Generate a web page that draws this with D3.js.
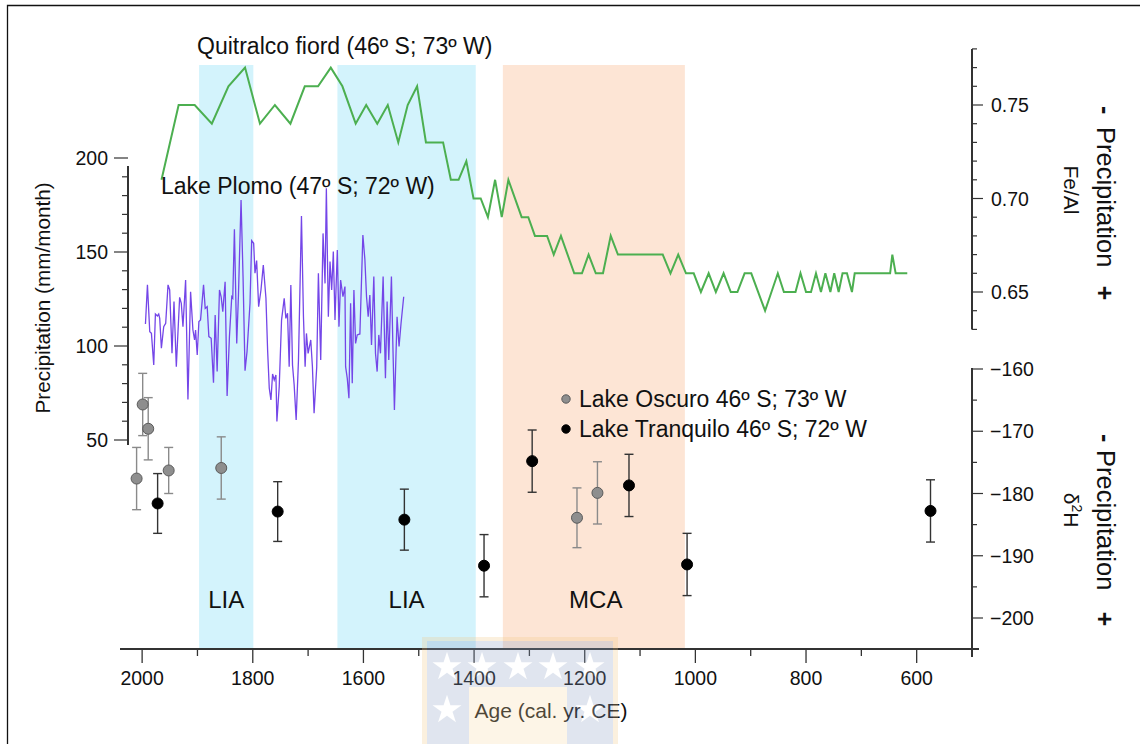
<!DOCTYPE html>
<html><head><meta charset="utf-8">
<script src="https://cdn.jsdelivr.net/npm/d3@7"></script>
<style>
body{margin:0;background:#fff}
svg{display:block}
text{font-family:"Liberation Sans",Arial,Helvetica,sans-serif;fill:#111}
</style>
</head><body>
<svg id="c" width="1140" height="744"></svg>
<script>
// ---------------- data ----------------
const xTickYears = [2000,1800,1600,1400,1200,1000,800,600];
const precipTicks = [50,100,150,200];
const feAlTicks = [0.65,0.70,0.75];
const d2hTicks = [-200,-190,-180,-170,-160];

const liaBands = [[1897,1799],[1647,1397]];
const mcaBands = [[1348,1019]];
const bandLabels = ["LIA","LIA","MCA"];
const bandLabelYears = [1848,1522,1180];

// Quitralco fiord Fe/Al
const quitralcoYears = [1965,1934,1905,1874,1844,1814,1787,1760,1732,1706,1682,1659,1638,1614,1595,1575,1556,1537,1520,1503,1487,1456,1442,1428,1414,1401,1388,1375,1362,1350,1338,1314,1302,1290,1268,1256,1243,1219,1205,1193,1180,1167,1153,1140,1059,1045,1031,1017,1003,990,976,963,949,936,924,911,899,874,851,840,819,810,800,791,782,773,765,756,749,741,734,726,717,712,648,644,638,617];
const quitralcoFeAl = [0.71,0.75,0.75,0.74,0.76,0.77,0.74,0.75,0.74,0.76,0.76,0.77,0.76,0.74,0.75,0.74,0.75,0.73,0.75,0.76,0.73,0.73,0.71,0.71,0.72,0.70,0.70,0.69,0.71,0.69,0.71,0.69,0.69,0.68,0.68,0.67,0.68,0.66,0.66,0.67,0.66,0.66,0.68,0.67,0.67,0.66,0.67,0.66,0.66,0.65,0.66,0.65,0.66,0.65,0.65,0.66,0.66,0.64,0.66,0.65,0.65,0.66,0.65,0.65,0.66,0.65,0.66,0.65,0.66,0.65,0.66,0.66,0.65,0.66,0.66,0.67,0.66,0.66];

// Lake Plomo precipitation (mm/month)
const plomoYears = [1994.0,1990.4,1986.2,1983.2,1979.0,1976.0,1972.4,1970.0,1968.2,1965.2,1961.0,1957.4,1953.2,1950.2,1946.0,1942.4,1938.2,1932.2,1929.2,1926.2,1921.4,1917.2,1912.4,1908.2,1905.2,1903.4,1900.4,1897.4,1894.4,1889.0,1886.0,1882.4,1879.4,1875.2,1871.0,1868.0,1864.4,1860.2,1857.2,1854.2,1850.0,1846.4,1842.2,1838.0,1836.2,1833.2,1829.0,1826.0,1821.2,1817.6,1814.0,1810.4,1805.0,1802.0,1798.4,1796.0,1793.0,1789.4,1785.2,1781.0,1776.2,1773.2,1770.2,1767.2,1764.2,1761.2,1758.2,1756.4,1752.2,1748.0,1743.2,1740.2,1737.2,1734.2,1731.2,1728.2,1725.2,1721.6,1717.4,1712.0,1708.4,1705.4,1703.0,1700.0,1695.2,1692.2,1689.2,1684.4,1681.4,1677.2,1673.0,1669.4,1667.0,1663.4,1660.4,1657.4,1654.4,1651.4,1647.2,1644.2,1641.2,1637.0,1633.4,1632.2,1629.2,1626.2,1623.2,1620.2,1617.2,1614.2,1611.2,1606.4,1601.0,1597.4,1594.4,1591.4,1588.4,1585.4,1581.2,1578.2,1575.2,1572.2,1569.2,1564.4,1560.2,1557.2,1554.2,1549.4,1547.0,1544.0,1539.2,1535.6,1532.0,1527.2];
const plomoPrecip = [111.7,132.5,107.6,106.7,89.9,117.0,116.0,117.0,114.7,98.8,110.3,112.1,132.5,129.8,96.1,123.6,89.0,125.9,122.7,110.3,135.1,71.6,128.9,108.5,103.2,108.5,95.2,113.0,113.8,132.5,120.0,120.9,105.0,104.1,80.5,116.5,86.4,129.8,126.2,118.3,134.2,73.4,105.0,126.2,125.4,162.1,101.4,126.2,177.7,136.9,86.9,97.0,122.7,156.0,154.6,138.7,145.4,120.9,129.8,143.1,125.4,97.9,77.5,71.3,85.1,81.9,84.6,59.8,78.4,113.8,125.4,114.7,117.4,89.0,132.5,89.9,79.3,60.6,92.6,169.2,115.6,89.0,106.7,96.1,103.2,89.0,64.2,89.0,138.7,92.6,159.9,133.3,183.9,115.6,144.9,129.8,150.2,113.8,151.1,110.3,135.1,126.2,131.6,89.0,82.8,72.2,122.7,80.2,129.8,101.4,105.9,106.4,159.0,146.1,126.2,115.6,127.1,100.5,136.9,96.1,86.4,105.9,96.1,136.9,82.8,123.6,92.6,136.9,103.2,66.0,115.6,99.7,112.1,126.2];

// Lake Oscuro / Lake Tranquilo δ2H
const oscuroYears = [2010,1999,1989,1952,1857,1214,1177];
const oscuroD2H = [-177.6,-165.7,-169.6,-176.3,-175.9,-183.9,-179.9];
const oscuroErr = [5,5,5,3.7,5,4.8,5];
const tranquiloYears = [1972,1755,1526,1382,1295,1120,1015,575];
const tranquiloD2H = [-181.6,-182.9,-184.2,-191.6,-174.8,-178.7,-191.4,-182.8];
const tranquiloErr = [4.8,4.8,4.9,5,5,5,5,5];

// ---------------- chart ----------------
const svg = d3.select("#c");
const FONT = 19.5;

const x = d3.scaleLinear().domain([2040,500]).range([120,972]);
const yP = d3.scaleLinear().domain([50,200]).range([440,158]);
const yF = d3.scaleLinear().domain([0.65,0.75]).range([292,105]);
const yD = d3.scaleLinear().domain([-200,-160]).range([618,369]);

// frame
svg.append("path").attr("d","M7.5,744 V5.5 H1140").attr("fill","none").attr("stroke","#111").attr("stroke-width",1.3);

// bands
const bandTop = 65, bandBottom = 649;
svg.selectAll("rect.lia").data(liaBands).join("rect").attr("class","lia")
  .attr("x",d=>x(d[0])).attr("width",d=>x(d[1])-x(d[0]))
  .attr("y",bandTop).attr("height",bandBottom-bandTop).attr("fill","#d3f3fc");
svg.selectAll("rect.mca").data(mcaBands).join("rect").attr("class","mca")
  .attr("x",d=>x(d[0])).attr("width",d=>x(d[1])-x(d[0]))
  .attr("y",bandTop).attr("height",bandBottom-bandTop).attr("fill","#fde5d5");
svg.selectAll("text.band").data(bandLabels).join("text").attr("class","band")
  .attr("x",(d,i)=>x(bandLabelYears[i])).attr("y",608)
  .attr("text-anchor","middle").attr("font-size",24).text(d=>d);

// Quitralco green line
const qData = quitralcoYears.map((y,i)=>[y,quitralcoFeAl[i]]);
svg.append("path").datum(qData)
  .attr("d",d3.line().x(d=>x(d[0])).y(d=>yF(d[1])))
  .attr("fill","none").attr("stroke","#4caf50").attr("stroke-width",2).attr("stroke-linejoin","miter");

// Lake Plomo purple line
const pData = plomoYears.map((y,i)=>[y,plomoPrecip[i]]);
svg.append("path").datum(pData)
  .attr("d",d3.line().x(d=>x(d[0])).y(d=>yP(d[1])))
  .attr("fill","none").attr("stroke","#7446e8").attr("stroke-width",1.3);

// titles
svg.append("text").attr("x",197).attr("y",54).attr("font-size",23).text("Quitralco fiord (46º S; 73º W)");
svg.append("text").attr("x",161).attr("y",194).attr("font-size",23).text("Lake Plomo (47º S; 72º W)");

// x axis
const xAxisG = svg.append("g");
xAxisG.append("line").attr("class","dom").attr("x1",120).attr("x2",979).attr("y1",649).attr("y2",649).attr("stroke","#333").attr("stroke-width",2);
const xMinor = d3.range(2000,499,-100);
xAxisG.selectAll("line.t").data(xMinor).join("line").attr("class","t")
  .attr("x1",d=>x(d)).attr("x2",d=>x(d)).attr("y1",649)
  .attr("y2",d=>xTickYears.includes(d)?663:656).attr("stroke","#333").attr("stroke-width",1.3);
xAxisG.selectAll("text.tl").data(xTickYears).join("text").attr("class","tl")
  .attr("x",d=>x(d)).attr("y",685).attr("text-anchor","middle").attr("font-size",FONT).text(d=>d);
svg.append("text").attr("x",551).attr("y",718).attr("text-anchor","middle").attr("font-size",21).text("Age (cal. yr. CE)");

// left axis (precipitation)
const lG = svg.append("g");
lG.append("line").attr("class","dom").attr("x1",128).attr("x2",128).attr("y1",yP(195.8)).attr("y2",yP(47.3)).attr("stroke","#333").attr("stroke-width",2);
const pMinor = d3.range(60,200,10).filter(v=>v%50!==0);
lG.selectAll("line.mn").data(pMinor).join("line").attr("class","mn")
  .attr("x1",122).attr("x2",128).attr("y1",d=>yP(d)).attr("y2",d=>yP(d)).attr("stroke","#333").attr("stroke-width",1.2);
lG.selectAll("line.mj").data(precipTicks).join("line").attr("class","mj")
  .attr("x1",114).attr("x2",128).attr("y1",d=>yP(d)).attr("y2",d=>yP(d)).attr("stroke","#333").attr("stroke-width",1.2);
lG.selectAll("text.tl").data(precipTicks).join("text").attr("class","tl")
  .attr("x",108).attr("y",d=>yP(d)).attr("dy","0.36em").attr("text-anchor","end").attr("font-size",FONT).text(d=>d);
svg.append("text").attr("transform","translate(50,298) rotate(-90)").attr("text-anchor","middle")
  .attr("font-size",20.7).text("Precipitation (mm/month)");

// right top axis (Fe/Al)
const fG = svg.append("g");
fG.append("line").attr("class","dom").attr("x1",972).attr("x2",972).attr("y1",yF(0.78)).attr("y2",yF(0.63)).attr("stroke","#333").attr("stroke-width",2);
const fAll = d3.range(63,79).map(v=>v/100);
fG.selectAll("line.tk").data(fAll).join("line").attr("class","tk")
  .attr("x1",972).attr("x2",d=>feAlTicks.some(t=>Math.abs(t-d)<1e-6)?983:977)
  .attr("y1",d=>yF(d)).attr("y2",d=>yF(d)).attr("stroke","#333").attr("stroke-width",1.2);
fG.selectAll("text.tl").data(feAlTicks).join("text").attr("class","tl")
  .attr("x",991).attr("y",d=>yF(d)).attr("dy","0.36em").attr("font-size",FONT).text(d=>d.toFixed(2));
svg.append("text").attr("transform","translate(1064,190) rotate(90)").attr("text-anchor","middle")
  .attr("font-size",21).text("Fe/Al");

// right bottom axis (δ2H)
const dG = svg.append("g");
dG.append("line").attr("class","dom").attr("x1",972).attr("x2",972).attr("y1",368).attr("y2",657).attr("stroke","#333").attr("stroke-width",2);
const dAll = d3.range(-200,-159,5);
dG.selectAll("line.tk").data(dAll).join("line").attr("class","tk")
  .attr("x1",972).attr("x2",d=>d%10===0?983:977)
  .attr("y1",d=>yD(d)).attr("y2",d=>yD(d)).attr("stroke","#333").attr("stroke-width",1.2);
dG.selectAll("text.tl").data(d2hTicks).join("text").attr("class","tl")
  .attr("x",990).attr("y",d=>yD(d)).attr("dy","0.36em").attr("font-size",FONT).text(d=>"\u2212"+Math.abs(d));
const dl = svg.append("text").attr("transform","translate(1064,510) rotate(90)").attr("text-anchor","middle").attr("font-size",21);
dl.append("tspan").text("δ");
dl.append("tspan").attr("font-size",14).attr("dy",-8).text("2");
dl.append("tspan").attr("dy",8).text("H");

// "- Precipitation +" labels
function precipLabel(yMinus, yP0, yPlus){
  svg.append("text").attr("transform",`translate(1097,${yMinus}) rotate(90)`).attr("font-size",25)
    .attr("font-weight","bold").text("-");
  svg.append("text").attr("transform",`translate(1097,${yP0}) rotate(90)`).attr("font-size",25.5)
    .text("Precipitation");
  svg.append("text").attr("transform",`translate(1096,${yPlus}) rotate(90)`).attr("font-size",25)
    .attr("text-anchor","middle").attr("font-weight","bold").text("+");
}
precipLabel(106,127,293);
precipLabel(434,450,619);

// error bars & points
function drawSeries(years, vals, errs, fill, stroke, barColor){
  const g = svg.append("g");
  years.forEach((yr,i)=>{
    const cx = x(yr), y0 = yD(vals[i]-errs[i]), y1 = yD(vals[i]+errs[i]);
    g.append("line").attr("x1",cx).attr("x2",cx).attr("y1",y0).attr("y2",y1).attr("stroke",barColor).attr("stroke-width",1.4);
    g.append("line").attr("x1",cx-4.5).attr("x2",cx+4.5).attr("y1",y0).attr("y2",y0).attr("stroke",barColor).attr("stroke-width",1.4);
    g.append("line").attr("x1",cx-4.5).attr("x2",cx+4.5).attr("y1",y1).attr("y2",y1).attr("stroke",barColor).attr("stroke-width",1.4);
  });
  g.selectAll("circle").data(years).join("circle")
    .attr("cx",d=>x(d)).attr("cy",(d,i)=>yD(vals[i])).attr("r",5.5)
    .attr("fill",fill).attr("stroke",stroke).attr("stroke-width",1);
}
drawSeries(oscuroYears, oscuroD2H, oscuroErr, "#8e8e8e", "#5a5a5a", "#8a8a8a");
drawSeries(tranquiloYears, tranquiloD2H, tranquiloErr, "#000", "#000", "#333");

// legend
const legend = [["Lake Oscuro 46º S; 73º W","#8e8e8e","#5a5a5a"],["Lake Tranquilo 46º S; 72º W","#000","#000"]];
legend.forEach((l,i)=>{
  const ly = 399 + i*30;
  svg.append("circle").attr("cx",566).attr("cy",ly).attr("r",4.2).attr("fill",l[1]).attr("stroke",l[2]);
  svg.append("text").attr("x",579).attr("y",ly).attr("dy","0.36em").attr("font-size",23).text(l[0]);
});

// faint watermark
const wm = svg.append("g").attr("opacity",0.26);
wm.append("rect").attr("x",422).attr("y",637).attr("width",196).attr("height",107).attr("fill","#f3c784");
wm.append("rect").attr("x",427).attr("y",641).attr("width",186).attr("height",103).attr("fill","#8a9ec4");
wm.append("rect").attr("x",469).attr("y",687).attr("width",98).attr("height",57).attr("fill","#fbdca6");
const star = d3.symbol().type(d3.symbolStar).size(260);
[[447,667],[482,667],[518,667],[553,667],[590,667],[447,710],[590,710]].forEach(p=>{
  wm.append("path").attr("d",star()).attr("transform",`translate(${p[0]},${p[1]})`).attr("fill","#fff");
});
</script>
</body></html>
